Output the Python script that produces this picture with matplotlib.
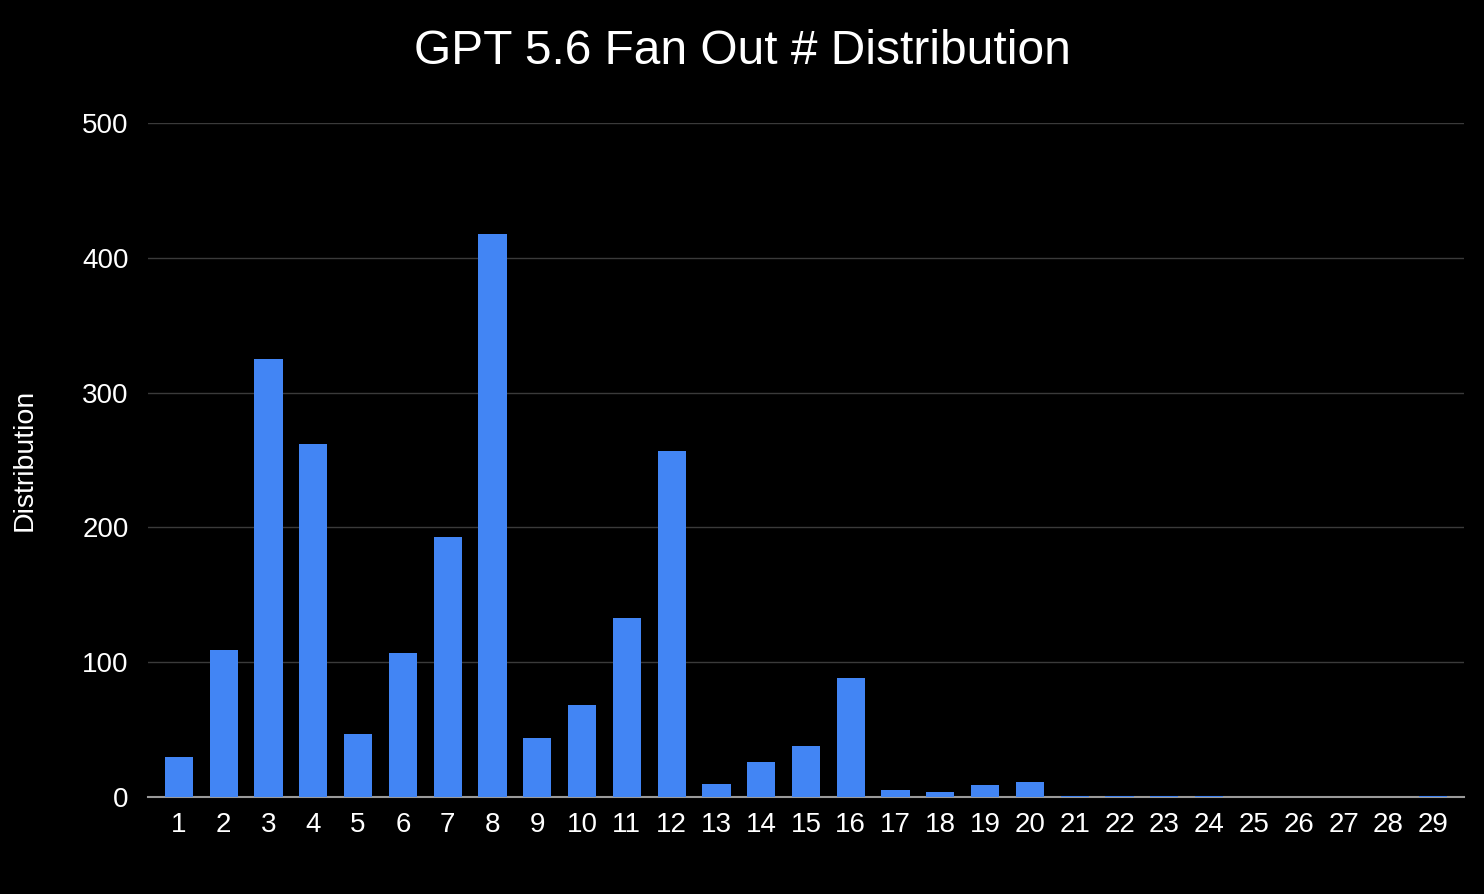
import matplotlib
matplotlib.use('Agg')
import matplotlib.pyplot as plt

plt.rcParams['font.family'] = ['Liberation Sans', 'DejaVu Sans']

# fan out count and how many times it happened
fan_out = [str(i) for i in range(1, 30)]
counts = [30, 109, 325, 262, 47, 107, 193, 418, 44, 68, 133, 257, 10, 26, 38, 88,
          5, 4, 9, 11, 1, 1, 1, 1, 0, 0, 0, 0, 1]

fig = plt.figure(figsize=(14.84, 8.94), dpi=100, facecolor='black')
ax = fig.add_axes([148 / 1484, 1 - 797 / 894, (1464 - 148) / 1484, (797 - 123) / 894])
ax.set_facecolor('black')

x = list(range(1, 30))
ax.bar(x, counts, width=0.63, color='#4285F4', zorder=3)

ax.set_xlim(0.31, 29.69)
ax.set_ylim(0, 500)
ax.set_yticks([0, 100, 200, 300, 400, 500])
ax.set_xticks(x)
ax.set_xticklabels(fan_out)
ax.tick_params(colors='white', labelsize=20, length=0)
ax.tick_params(axis='x', pad=11)
ax.tick_params(axis='y', pad=14)
ax.grid(axis='y', color='#3a3a3a', linewidth=1, zorder=0)
for s in ['top', 'right', 'left']:
    ax.spines[s].set_visible(False)
ax.spines['bottom'].set_color('#9a9a9a')
ax.spines['bottom'].set_linewidth(1.5)
ax.spines['bottom'].set_zorder(2)

ax.set_ylabel('Distribution', color='white', fontsize=20.5, labelpad=32)
fig.text(0.5, 1 - 52 / 894, 'GPT 5.6 Fan Out # Distribution', color='white',
         fontsize=34.5, ha='center', va='center')

fig.savefig('out.png', dpi=100, facecolor='black')
